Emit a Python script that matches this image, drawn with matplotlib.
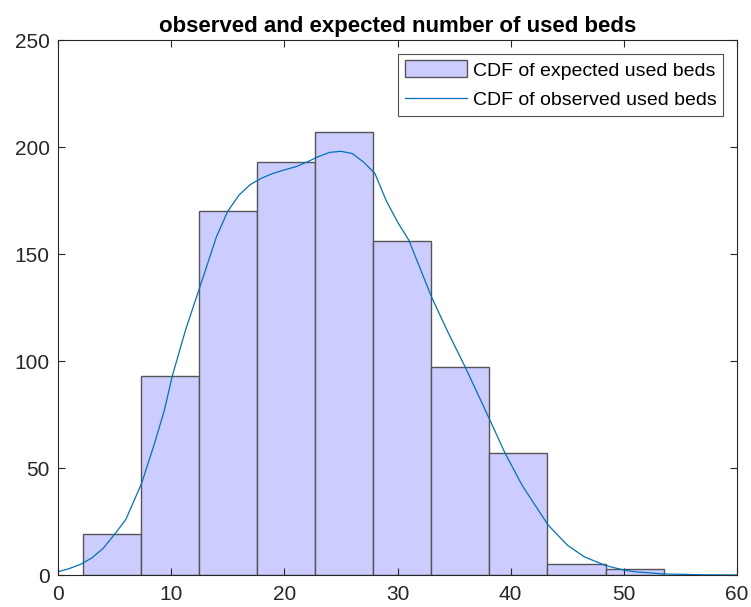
import matplotlib
matplotlib.use("Agg")
import matplotlib.pyplot as plt
import numpy as np

plt.rcParams['font.family'] = ['Liberation Sans', 'DejaVu Sans']

# histogram (expected)
bin_start = 2.21
bin_width = 5.13
counts = [19, 93, 170, 193, 207, 156, 97, 57, 5, 3]

# observed curve
curve_x = [0, 1, 2, 3, 4, 5, 6, 7.4, 8.5, 9.4, 10.1, 11.3, 12.5, 14, 15, 16, 17, 18, 19, 20, 21, 22, 23, 24,
           25, 26, 27, 28, 29, 30, 31, 33, 34.5, 36, 38.2, 39.5, 41, 43.3, 45, 46.5, 48.4, 50, 51, 53.5, 57, 60]
curve_y = [1.5, 3, 5, 8, 12.5, 19, 26, 43, 61, 77, 93, 115, 134, 158, 170, 177.6, 182.5, 185.5, 187.7, 189.3, 190.8, 193, 195.5, 197.5,
           198, 197, 193, 187.7, 175, 165, 156.5, 130, 113, 97, 72, 57, 42, 23.4, 14, 8.5, 4.4, 2.3, 1.5, 0.5, 0.1, 0]

edges = bin_start + bin_width * np.arange(len(counts) + 1)

fig = plt.figure(figsize=(7.51, 6.07), dpi=100)
ax = fig.add_axes([0.0772, 0.0527, 0.9042, 0.8813])

bars = ax.bar(edges[:-1], counts, width=bin_width, align='edge', color='#ccccff',
              edgecolor='#555555', linewidth=1.0, label='CDF of expected used beds')
line, = ax.plot(curve_x, curve_y, color='#0072BD', linewidth=0.9, label='CDF of observed used beds')

ax.set_xlim(0, 60)
ax.set_ylim(0, 250)
ax.set_xticks(np.arange(0, 61, 10))
ax.set_yticks(np.arange(0, 251, 50))
ax.tick_params(direction='in', length=5, width=0.8, labelsize=15, colors='#262626',
               top=True, right=True)
ax.tick_params(axis='x', pad=7)
ax.tick_params(axis='y', pad=6)
for s in ax.spines.values():
    s.set_color('#262626')
    s.set_linewidth(0.8)

ax.set_title('observed and expected number of used beds', fontsize=16,
             fontweight='bold', color='black', pad=6)

leg = ax.legend(handles=[bars, line], loc='upper right', fontsize=14, frameon=True, fancybox=False,
                edgecolor='#262626', borderaxespad=0.7, handlelength=3.2, handleheight=0.95,
                handletextpad=0.3, borderpad=0.35, labelspacing=0.55)
leg.get_frame().set_linewidth(0.8)

fig.savefig('out.png', dpi=100)
